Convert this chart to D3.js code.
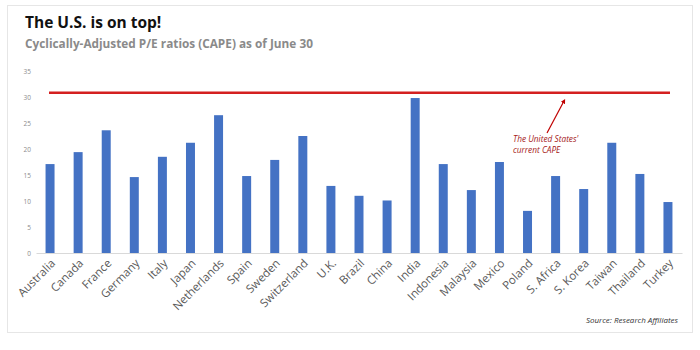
<!DOCTYPE html>
<html><head><meta charset="utf-8">
<script src="https://cdn.jsdelivr.net/npm/d3@7"></script>
<style>body{margin:0;background:#fff;} text{font-family:"Open Sans","Noto Sans",sans-serif;}</style>
</head><body><svg id="c" width="700" height="350"></svg>
<script>
const countries = ["Australia","Canada","France","Germany","Italy","Japan","Netherlands","Spain","Sweden","Switzerland","U.K.","Brazil","China","India","Indonesia","Malaysia","Mexico","Poland","S. Africa","S. Korea","Taiwan","Thailand","Turkey"];
const cape = [17.1,19.4,23.6,14.6,18.5,21.2,26.5,14.8,17.9,22.5,12.9,11.0,10.1,29.8,17.1,12.1,17.5,8.1,14.8,12.3,21.2,15.2,9.8];
const usCape = 30.8;
const yTicks = [0,5,10,15,20,25,30,35];

const svg = d3.select("#c");
svg.append("rect").attr("x",7.5).attr("y",5.5).attr("width",685).attr("height",327)
  .attr("fill","#fff").attr("stroke","#e6e6e6");

svg.append("text").attr("x",25).attr("y",28).attr("font-size",15.5).attr("font-weight",700)
  .attr("fill","#111").text("The U.S. is on top!");
svg.append("text").attr("x",25).attr("y",48).attr("font-size",11.8).attr("font-weight",700)
  .attr("fill","#8a8a8a").text("Cyclically-Adjusted P/E ratios (CAPE) as of June 30");

const x = d3.scaleBand().domain(countries).range([36,682]).paddingInner(0.68).paddingOuter(0.34);
const y = d3.scaleLinear().domain([0,35]).range([253,71]);

const yAxis = svg.append("g").attr("transform","translate(31,0)")
  .call(d3.axisLeft(y).tickValues(yTicks).tickSize(0).tickPadding(0));
yAxis.select(".domain").remove();
yAxis.selectAll("text").attr("font-size",6.5).attr("fill","#8c8c8c").attr("font-family","Open Sans, sans-serif");

svg.append("g").selectAll("rect").data(countries).join("rect")
  .attr("x",d=>x(d)).attr("width",x.bandwidth())
  .attr("y",(d,i)=>y(cape[i])).attr("height",(d,i)=>y(0)-y(cape[i]))
  .attr("fill","#4472c4");

const xAxis = svg.append("g").attr("transform","translate(0,253)")
  .call(d3.axisBottom(x).tickSize(0).tickPadding(0));
xAxis.select(".domain").attr("stroke","#d9d9d9");
xAxis.selectAll("text").attr("font-size",11.5).attr("fill","#595959")
  .attr("text-anchor","end").attr("dy",0)
  .attr("transform","translate(6,11) rotate(-45)").attr("font-family","Open Sans, sans-serif");

svg.append("line").attr("x1",49).attr("x2",670).attr("y1",y(usCape)).attr("y2",y(usCape))
  .attr("stroke","#d42020").attr("stroke-width",2.5);

svg.append("defs").append("marker").attr("id","ah").attr("viewBox","0 0 10 10")
  .attr("refX",5).attr("refY",5).attr("markerWidth",4).attr("markerHeight",4).attr("orient","auto")
  .append("path").attr("d","M0,0 L10,5 L0,10 z").attr("fill","#c00000");
svg.append("line").attr("x1",547).attr("y1",133).attr("x2",564).attr("y2",101)
  .attr("stroke","#c00000").attr("stroke-width",1.2).attr("marker-end","url(#ah)");
const ann = svg.append("text").attr("font-size",8.3).attr("font-style","italic").attr("fill","#a52020");
ann.append("tspan").attr("x",513).attr("y",142).text("The United States'");
ann.append("tspan").attr("x",513).attr("y",153).text("current CAPE");

svg.append("text").attr("x",678).attr("y",323).attr("text-anchor","end").attr("font-size",8)
  .attr("font-style","italic").attr("fill","#333").text("Source: Research Affiliates");
</script></body></html>
